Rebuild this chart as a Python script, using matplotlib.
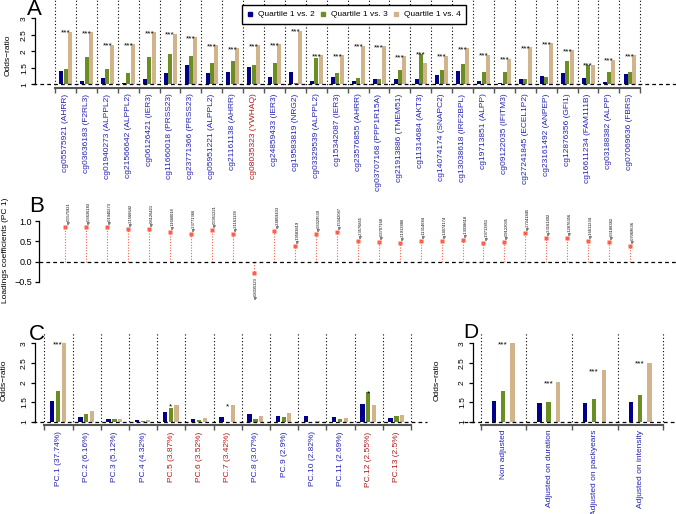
import numpy as np
import matplotlib.pyplot as plt
from matplotlib.lines import Line2D

plt.rcParams['font.family'] = ['Liberation Sans', 'DejaVu Sans']

W, H = 676, 514

# ---- data ----
probes = ['cg05575921', 'cg03636183', 'cg01940273', 'cg21566642', 'cg06126421',
          'cg11660018', 'cg23771366', 'cg05951221', 'cg21161138', 'cg08035323',
          'cg24859433', 'cg19583819', 'cg03329539', 'cg15342087', 'cg23576855',
          'cg03707168', 'cg21913886', 'cg11314684', 'cg14074174', 'cg13038618',
          'cg19713851', 'cg09122035', 'cg27241845', 'cg23161492', 'cg12876356',
          'cg16611234', 'cg03188382', 'cg07069636']
genes = ['AHRR', 'F2RL3', 'ALPPL2', 'ALPPL2', 'IER3', 'PRSS23', 'PRSS23', 'ALPPL2',
         'AHRR', 'YWHAQ', 'IER3', 'NRG2', 'ALPPL2', 'IER3', 'AHRR', 'PPP1R15A',
         'TMEM51', 'AKT3', 'SNAPC2', 'IRF2BPL', 'ALPP', 'IFITM3', 'ECEL1P2',
         'ANPEP', 'GFI1', 'FAM111B', 'ALPP', 'FBRS']
red_probes = ['cg08035323']

q2 = [1.40, 1.11, 1.20, 1.03, 1.17, 1.33, 1.60, 1.34, 1.38, 1.52, 1.21, 1.36, 1.10, 1.21,
      1.10, 1.17, 1.17, 1.17, 1.27, 1.41, 1.10, 1.04, 1.15, 1.26, 1.35, 1.20, 1.06, 1.30]
q3 = [1.46, 1.82, 1.46, 1.35, 1.84, 1.93, 1.85, 1.64, 1.70, 1.59, 1.66, 1.05, 1.80, 1.33,
      1.18, 1.17, 1.43, 1.93, 1.44, 1.62, 1.36, 1.36, 1.15, 1.21, 1.70, 1.60, 1.36, 1.36]
q4 = [2.59, 2.58, 2.20, 2.22, 2.57, 2.53, 2.42, 2.18, 2.09, 2.19, 2.22, 2.63, 1.89, 1.89,
      2.17, 2.15, 1.86, 1.66, 1.87, 2.09, 1.90, 1.78, 2.12, 2.24, 2.04, 1.59, 1.74, 1.89]
stars_a = ['***'] * 28

loadings = [0.86, 0.84, 0.85, 0.80, 0.80, 0.72, 0.67, 0.79, 0.68, -0.28, 0.75, 0.38, 0.67, 0.73,
            0.51, 0.49, 0.45, 0.51, 0.51, 0.53, 0.46, 0.48, 0.70, 0.59, 0.57, 0.50, 0.48, 0.39]

pcs = ['PC.1 (37.74%)', 'PC.2 (6.16%)', 'PC.3 (5.12%)', 'PC.4 (4.32%)', 'PC.5 (3.87%)',
       'PC.6 (3.52%)', 'PC.7 (3.42%)', 'PC.8 (3.07%)', 'PC.9 (2.9%)', 'PC.10 (2.82%)',
       'PC.11 (2.69%)', 'PC.12 (2.55%)', 'PC.13 (2.5%)']
pc_red = ['PC.5 (3.87%)', 'PC.6 (3.52%)', 'PC.7 (3.42%)', 'PC.12 (2.55%)', 'PC.13 (2.5%)']
pc_q2 = [1.54, 1.13, 1.08, 1.05, 1.24, 1.08, 1.11, 1.20, 1.14, 1.14, 1.12, 1.45, 1.10]
pc_q3 = [1.78, 1.20, 1.08, 1.03, 1.35, 1.04, 1.00, 1.08, 1.13, 1.00, 1.07, 1.75, 1.14]
pc_q4 = [3.00, 1.28, 1.07, 1.04, 1.42, 1.09, 1.42, 1.15, 1.21, 1.02, 1.09, 1.43, 1.18]
pc_stars = ['***', '', '', '', '*', '', '*', '', '', '', '', '*', '']

adj = ['Non adjusted', 'Adjusted on duration', 'Adjusted on packyears', 'Adjusted on intensity']
adj_q2 = [1.54, 1.48, 1.48, 1.51]
adj_q3 = [1.78, 1.51, 1.58, 1.68]
adj_q4 = [3.00, 2.00, 2.32, 2.51]
adj_stars = ['***'] * 4

legend_labels = ['Quartile 1 vs. 2', 'Quartile 1 vs. 3', 'Quartile 1 vs. 4']
bar_colors = ['#00008B', '#6B8E23', '#D2B48C']
BLUE = '#2323B4'
RED = '#B01818'
PT_RED = '#FF5E4A'

fig = plt.figure(figsize=(6.76, 5.14), dpi=100)


def panel(l, t, r, b, x0, sx, yref, ypx, sy):
    # axes placed in pixel box, data mapped so x=0 at x0 px, value yref at ypx px
    ax = fig.add_axes([l / W, 1 - b / H, (r - l) / W, (b - t) / H])
    ax.set_xlim((l - x0) / sx, (r - x0) / sx)
    ax.set_ylim(yref - (b - ypx) / sy, yref + (ypx - t) / sy)
    ax.patch.set_alpha(0)
    ax.spines['top'].set_visible(False)
    ax.spines['right'].set_visible(False)
    return ax


def ftext(x, y, s, **kw):
    fig.text(x / W, 1 - y / H, s, **kw)


def bar_panel(ax, x0, sx, vals, stars, offs, width, labels, lcolors, yaxis_px,
              dash_px, lab_off):
    n = len(vals[0])
    x = np.arange(n)
    for v, off, c in zip(vals, offs, bar_colors):
        ax.bar(x + off, np.array(v) - 1, width, bottom=1, color=c, linewidth=0)
    for i in range(n + 1):
        ax.axvline(i, color='black', lw=0.8, ls=(0, (1, 2)))
    ax.plot([(dash_px[0] - x0) / sx, (dash_px[1] - x0) / sx], [1, 1], color='black',
            lw=0.9, dashes=(3, 2.5), clip_on=False)
    for i in range(n):
        if stars[i]:
            top = max(vals[0][i], vals[1][i], vals[2][i])
            ax.annotate(stars[i], xy=(i + offs[1], top), xytext=(0, -3),
                        textcoords='offset pixels', ha='center', va='baseline', fontsize=6)
        ax.annotate(labels[i], xy=(i + 0.5, 0), xycoords=('data', 'axes fraction'),
                    xytext=(0, lab_off), textcoords='offset pixels', rotation=90,
                    rotation_mode='anchor', ha='right', va='center', fontsize=6,
                    color=lcolors[i], annotation_clip=False)
    ax.spines['left'].set_position(('data', (yaxis_px - x0) / sx))
    ax.spines['left'].set_bounds(1, 3)
    ax.spines['left'].set_linewidth(0.9)
    ax.set_yticks([1, 1.5, 2, 2.5, 3])
    ax.set_yticklabels(['1', '1.5', '2', '2.5', '3'], rotation=90, va='center', fontsize=6)
    ax.tick_params(axis='y', length=3, width=0.9, pad=2)
    ax.spines['bottom'].set_bounds(0, n)
    ax.spines['bottom'].set_color('#555555')
    ax.spines['bottom'].set_linewidth(1.5)
    ax.set_xticks(range(n + 1))
    ax.set_xticklabels([])
    ax.tick_params(axis='x', length=3.5, width=1, color='#555555')


# ---- Panel A ----
axA = panel(0, 0, 676, 87.5, 55, 20.9, 1, 84.3, 33)
labA = [p + ' (' + g + ')' for p, g in zip(probes, genes)]
colA = [RED if p in red_probes else BLUE for p in probes]
bar_panel(axA, 55, 20.9, (q2, q3, q4), stars_a, (0.30, 0.51, 0.72), 0.19, labA, colA,
          35, (33, 676), -6)
ftext(8, 55, 'Odds\u2212ratio', rotation=90, ha='center', va='center', fontsize=6)
ftext(27, 15, 'A', fontsize=16, va='baseline')

handles = [Line2D([], [], marker='s', ls='none', color=c, ms=2.6) for c in bar_colors]
leg = fig.legend(handles, legend_labels, loc='center', bbox_to_anchor=(354 / W, 1 - 14.5 / H),
                 ncol=3, fontsize=6, frameon=True, fancybox=False, edgecolor='black',
                 handlelength=0.6, handletextpad=0.66, columnspacing=0.66, borderpad=0.7,
                 framealpha=1)
leg.get_frame().set_linewidth(1.0)

# ---- Panel B ----
axB = panel(0, 180, 676, 300, 55, 20.9, 0, 261.5, 40.5)
xb = np.arange(len(loadings)) + 0.5
axB.vlines(xb, 0, loadings, colors=PT_RED, linestyles=(0, (1, 1.5)), lw=0.8)
axB.plot(xb, loadings, 's', color=PT_RED, ms=3.4, mec='none')
axB.plot([(39 - 55) / 20.9, (676 - 55) / 20.9], [0, 0], color='black', lw=0.9,
         dashes=(3, 2.5), clip_on=False)
for xi, v, p in zip(xb, loadings, probes):
    if v >= 0:
        axB.annotate(p, xy=(xi, v), xytext=(3, 3), textcoords='offset pixels', rotation=90,
                     rotation_mode='anchor', ha='left', va='center', fontsize=2.9)
    else:
        axB.annotate(p, xy=(xi, v), xytext=(2, -4), textcoords='offset pixels', rotation=90,
                     rotation_mode='anchor', ha='right', va='center', fontsize=2.9)
axB.spines['bottom'].set_visible(False)
axB.spines['left'].set_position(('data', (39 - 55) / 20.9))
axB.spines['left'].set_bounds(-0.5, 1.0)
axB.spines['left'].set_linewidth(0.9)
axB.set_xticks([])
axB.set_yticks([-0.5, 0, 0.5, 1.0])
axB.set_yticklabels(['\u22120.5', '0.0', '0.5', '1.0'], fontsize=6.5)
axB.tick_params(axis='y', length=3, width=0.9, pad=2)
ftext(6, 250, 'Loadings coefficients (PC 1)', rotation=90, ha='center', va='center',
      fontsize=6)
ftext(29, 212, 'B', fontsize=16, va='baseline')

# ---- Panel C ----
axC = panel(0, 331.7, 440, 425, 44.3, 28.2, 1, 421.7, 39.2)
colC = [RED if p in pc_red else BLUE for p in pcs]
bar_panel(axC, 44.3, 28.2, (pc_q2, pc_q3, pc_q4), pc_stars, (0.28, 0.49, 0.69), 0.15,
          pcs, colC, 35, (33, 427), -6.5)
ftext(4, 380, 'Odds\u2212ratio', rotation=90, ha='center', va='center', fontsize=6)
ftext(29, 340, 'C', fontsize=16, va='baseline')

# ---- Panel D ----
axD = panel(440, 331.7, 676, 425, 480.7, 45.6, 1, 421.7, 39.2)
bar_panel(axD, 480.7, 45.6, (adj_q2, adj_q3, adj_q4), adj_stars, (0.29, 0.49, 0.70), 0.095,
          adj, [BLUE] * 4, 473, (464, 676), -4.5)
ftext(437, 380, 'Odds\u2212ratio', rotation=90, ha='center', va='center', fontsize=6)
ftext(463, 338, 'D', fontsize=15, va='baseline')

fig.savefig('out.png', dpi=100)
